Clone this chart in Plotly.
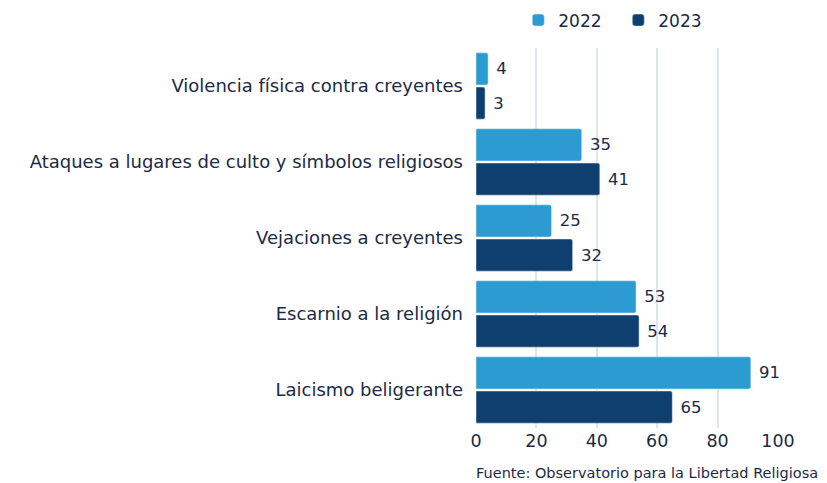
import plotly.graph_objects as go

categories = ['Violencia física contra creyentes', 'Ataques a lugares de culto y símbolos religiosos',
              'Vejaciones a creyentes', 'Escarnio a la religión', 'Laicismo beligerante']
values_2022 = [4, 35, 25, 53, 91]
values_2023 = [3, 41, 32, 54, 65]
x_ticks = [0, 20, 40, 60, 80, 100]
source = 'Fuente: Observatorio para la Libertad Religiosa'

text_color = '#1b2a47'
font_family = 'DejaVu Sans, sans-serif'

fig = go.Figure()
fig.add_trace(go.Bar(y=categories, x=values_2022, name='2022', orientation='h', marker=dict(color='#2b9bd1', cornerradius=2),
                     texttemplate=' %{x}', textposition='outside', cliponaxis=False, textfont=dict(size=16.5, color=text_color)))
fig.add_trace(go.Bar(y=categories, x=values_2023, name='2023', orientation='h', marker=dict(color='#0e3f6f', cornerradius=2),
                     texttemplate=' %{x}', textposition='outside', cliponaxis=False, textfont=dict(size=16.5, color=text_color)))

# the page body adds an 8px offset, so the figure is 8px smaller than the window
fig.update_layout(
    width=819, height=475, barmode='group', bargap=0.1, bargroupgap=0.06,
    plot_bgcolor='white', paper_bgcolor='white',
    font=dict(family=font_family, color=text_color, size=16),
    margin=dict(l=468, r=49, t=40, b=55, autoexpand=False),
    legend=dict(orientation='h', x=0.14, xanchor='left', y=1.025, yanchor='bottom', font=dict(size=17),
                itemwidth=30, entrywidth=55, traceorder='normal'),
    showlegend=True,
)
fig.update_xaxes(range=[0, 100], tickvals=x_ticks, showgrid=True, gridcolor='#dfe5ec', gridwidth=2, zeroline=False,
                 tickfont=dict(size=17.5), ticks='', showline=False, automargin=False)
fig.update_yaxes(autorange='reversed', tickfont=dict(size=18), ticks='', ticklabelstandoff=12,
                 showgrid=False, automargin=False)
fig.add_annotation(text=source, xref='paper', yref='paper', x=1.14, y=-0.092, xanchor='right', yanchor='top',
                   showarrow=False, font=dict(size=14.5, color=text_color))

fig.write_html('out.html')
